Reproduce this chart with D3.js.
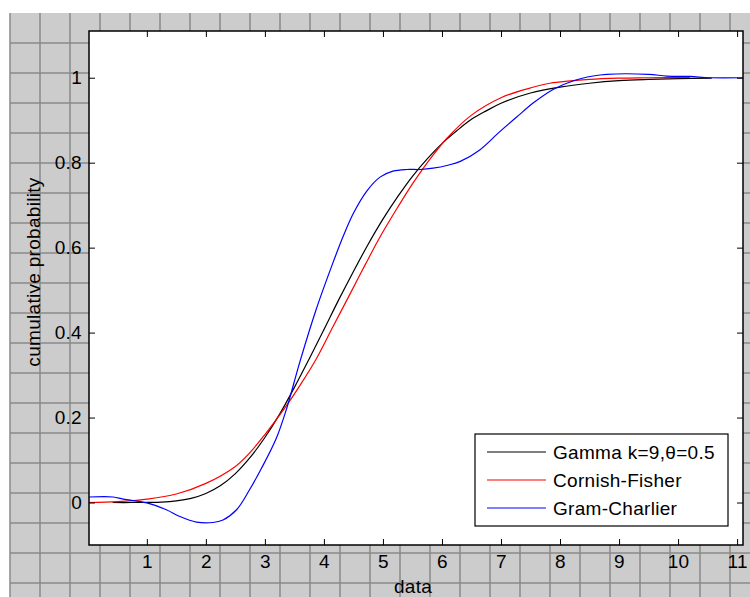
<!DOCTYPE html>
<head>
<title>Cumulative probability</title>
  <style>
  body { margin: 0; background: #fff; }
  text { font-family: "Liberation Sans", Arial, sans-serif; letter-spacing: 0.3px; }
  </style>
</head>

<body>

  <script src="https://cdn.jsdelivr.net/npm/d3@7/dist/d3.min.js"></script>

  <script>

    // data
    var gammaX = [0.42, 0.75, 1.0, 1.25, 1.5, 1.75, 2.0, 2.25, 2.5, 2.75, 3.0, 3.25, 3.5, 3.75, 4.0, 4.25, 4.5, 4.75, 5.0, 5.25, 5.5, 5.75, 6.0, 6.25, 6.5, 6.75, 7.0, 7.5, 8.0, 8.5, 9.0, 9.5, 10.0, 10.57];
    var gammaY = [0, 0, 0.0002, 0.0009, 0.0038, 0.0099, 0.0214, 0.040, 0.068, 0.106, 0.153, 0.208, 0.271, 0.338, 0.407, 0.477, 0.544, 0.608, 0.667, 0.720, 0.768, 0.809, 0.845, 0.875, 0.902, 0.922, 0.940, 0.964, 0.978, 0.987, 0.993, 0.996, 0.998, 0.999];

    var cfX = [0.02, 0.5, 1.0, 1.5, 2.0, 2.5, 2.75, 3.0, 3.35, 3.6, 3.87, 4.15, 4.45, 4.7, 4.95, 5.25, 5.5, 5.8, 6.08, 6.5, 7.0, 7.5, 7.83, 8.5, 9.0, 9.5, 10.2];
    var cfY = [0, 0.002, 0.008, 0.02, 0.045, 0.085, 0.118, 0.16, 0.225, 0.277, 0.338, 0.413, 0.493, 0.56, 0.625, 0.695, 0.75, 0.809, 0.857, 0.912, 0.953, 0.976, 0.987, 0.996, 0.999, 1.0, 1.001];

    var gcX = [0.02, 0.43, 0.6, 1.0, 1.33, 1.56, 1.84, 2.12, 2.29, 2.52, 2.74, 2.94, 3.19, 3.37, 3.59, 3.87, 4.16, 4.33, 4.5, 4.72, 4.95, 5.17, 5.4, 5.63, 5.85, 6.1, 6.31, 6.64, 6.98, 7.27, 7.55, 7.89, 8.23, 8.56, 8.79, 9.5, 9.81, 10.2, 10.54, 11.1];
    var gcY = [0.013, 0.013, 0.008, -0.001, -0.017, -0.033, -0.046, -0.047, -0.041, -0.017, 0.030, 0.080, 0.150, 0.222, 0.330, 0.455, 0.567, 0.628, 0.681, 0.732, 0.766, 0.780, 0.784, 0.784, 0.787, 0.794, 0.803, 0.830, 0.873, 0.908, 0.941, 0.973, 0.993, 1.004, 1.008, 1.008, 1.004, 1.003, 1.0, 1.0];

    var xTicks = [1, 2, 3, 4, 5, 6, 7, 8, 9, 10, 11];
    var yTicks = [0, 0.2, 0.4, 0.6, 0.8, 1];

    var seriesNames = ["Gamma k=9,\u03b8=0.5", "Cornish-Fisher", "Gram-Charlier"];
    var seriesColors = ["#000000", "#ff0000", "#0000ff"];

    // figure size and axes box
    var W = 750, H = 597;
    var margin = {top: 31, right: 7, bottom: 52, left: 89},
        width = W - margin.left - margin.right,
        height = H - margin.top - margin.bottom;

    var svg0 = d3.select("body").append("svg")
                .attr("width", W)
                .attr("height", H);

    // grey graph-paper background
    svg0.append("rect")
        .attr("x", 10).attr("y", 13)
        .attr("width", W - 10).attr("height", H - 13)
        .attr("fill", "#cccccc");

    svg0.selectAll(".vgrid")
        .data(d3.range(10, W + 1, 30))
        .enter().append("line")
        .attr("x1", function(d) { return d; })
        .attr("x2", function(d) { return d; })
        .attr("y1", 13).attr("y2", H)
        .attr("stroke", "#8a8a8a")
        .attr("stroke-width", 1.5);

    svg0.selectAll(".hgrid")
        .data(d3.range(43, H + 1, 30))
        .enter().append("line")
        .attr("x1", 10).attr("x2", W)
        .attr("y1", function(d) { return d; })
        .attr("y2", function(d) { return d; })
        .attr("stroke", "#8a8a8a")
        .attr("stroke-width", 1.5);

    var svg = svg0.append("g")
                .attr("transform", "translate(" + margin.left + "," + margin.top + ")");

    // scales
    var x = d3.scaleLinear().domain([0.02, 11.1]).range([0, width]);
    var y = d3.scaleLinear().domain([-0.1, 1.11]).range([height, 0]);

    // white plot area
    svg.append("rect")
       .attr("width", width)
       .attr("height", height)
       .attr("fill", "#ffffff");

    var line = d3.line()
        .x(function(d) { return x(d[0]); })
        .y(function(d) { return y(d[1]); })
        .curve(d3.curveCatmullRom.alpha(0.5));

    var series = [d3.zip(gammaX, gammaY), d3.zip(cfX, cfY), d3.zip(gcX, gcY)];

    svg.selectAll(".curve")
       .data(series)
       .enter().append("path")
       .attr("class", "curve")
       .attr("d", line)
       .attr("fill", "none")
       .attr("stroke", function(d, i) { return seriesColors[i]; })
       .attr("stroke-width", 1.2);

    // axes, ticks pointing inward on all four sides
    var fontSize = "19px";

    svg.append("g")
       .attr("id", "x_axis")
       .attr("transform", "translate(0," + height + ")")
       .call(d3.axisBottom(x).tickValues(xTicks).tickSizeInner(-6).tickSizeOuter(0).tickPadding(10).tickFormat(d3.format("d")))
       .call(function(g) { g.select(".domain").remove(); g.selectAll("text").style("font-size", fontSize).attr("fill", "#000"); });

    svg.append("g")
       .call(d3.axisTop(x).tickValues(xTicks).tickSizeInner(-6).tickSizeOuter(0).tickFormat(""))
       .call(function(g) { g.select(".domain").remove(); });

    svg.append("g")
       .attr("id", "y_axis")
       .call(d3.axisLeft(y).tickValues(yTicks).tickSizeInner(-6).tickSizeOuter(0).tickPadding(7).tickFormat(function(d) { return d3.format("")(d); }))
       .call(function(g) { g.select(".domain").remove(); g.selectAll("text").style("font-size", fontSize).attr("fill", "#000"); });

    svg.append("g")
       .attr("transform", "translate(" + width + ",0)")
       .call(d3.axisRight(y).tickValues(yTicks).tickSizeInner(-6).tickSizeOuter(0).tickFormat(""))
       .call(function(g) { g.select(".domain").remove(); });

    // box
    svg.append("rect")
       .attr("width", width)
       .attr("height", height)
       .attr("fill", "none")
       .attr("stroke", "#000")
       .attr("stroke-width", 1.5);

    // axis labels
    svg.append("text")
       .attr("x", width / 2 - 3)
       .attr("y", height + 48)
       .attr("text-anchor", "middle")
       .style("font-size", fontSize)
       .text("data");

    svg.append("text")
       .attr("transform", "rotate(-90)")
       .attr("x", 0 - (height / 2) + 16)
       .attr("y", -49)
       .attr("text-anchor", "middle")
       .style("font-size", fontSize)
       .text("cumulative probability");

    // legend
    var legend = svg.append("g")
       .attr("transform", "translate(" + (475 - margin.left) + "," + (434 - margin.top) + ")");

    legend.append("rect")
       .attr("width", 253)
       .attr("height", 92)
       .attr("fill", "#fff")
       .attr("stroke", "#000")
       .attr("stroke-width", 1.2);

    var items = legend.selectAll(".item")
       .data(seriesNames)
       .enter().append("g")
       .attr("transform", function(d, i) { return "translate(0," + (18 + i * 28) + ")"; });

    items.append("line")
       .attr("x1", 12).attr("x2", 71)
       .attr("stroke", function(d, i) { return seriesColors[i]; })
       .attr("stroke-width", 1.2);

    items.append("text")
       .attr("x", 78)
       .attr("dy", "0.35em")
       .style("font-size", fontSize)
       .text(function(d) { return d; });

  </script>

</body>
